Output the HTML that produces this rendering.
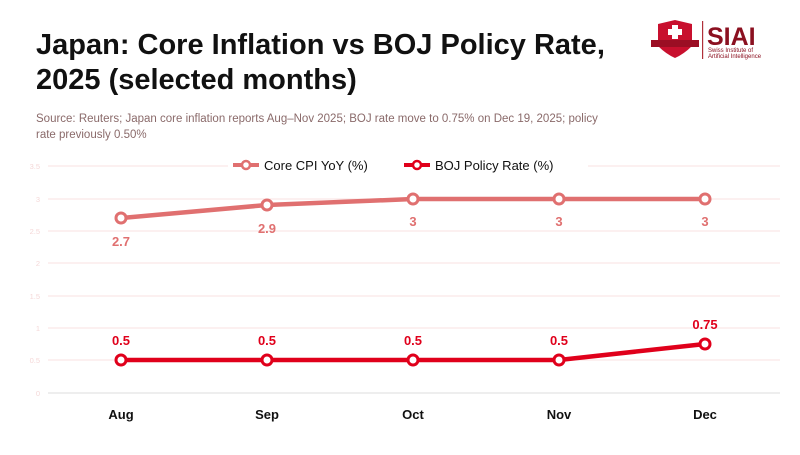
<!DOCTYPE html>
<html><head><meta charset="utf-8"><style>
body{margin:0;width:800px;height:450px;background:#fff;overflow:hidden;font-family:"Liberation Sans",sans-serif}
</style></head><body>
<svg width="800" height="450" xmlns="http://www.w3.org/2000/svg" font-family="Liberation Sans, sans-serif">
<text x="36" y="54" font-size="29" font-weight="bold" fill="#111">Japan: Core Inflation vs BOJ Policy Rate,</text>
<text x="36" y="89" font-size="29" font-weight="bold" fill="#111">2025 (selected months)</text>
<text x="36" y="122" font-size="11.5" fill="#8a6a6a">Source: Reuters; Japan core inflation reports Aug–Nov 2025; BOJ rate move to 0.75% on Dec 19, 2025; policy</text>
<text x="36" y="138" font-size="11.5" fill="#8a6a6a">rate previously 0.50%</text>
<!-- logo -->
<g>
<path d="M658 24 L675 20 L692 24 L692 46 Q684 54 675 58 Q666 54 658 46 Z" fill="#c8102e"/>
<rect x="651" y="40" width="48" height="7" fill="#9b0e24"/>
<rect x="672" y="25" width="6" height="14" fill="#fff"/><rect x="668" y="29" width="14" height="6" fill="#fff"/>
<rect x="702" y="21" width="1.2" height="38" fill="#b0303a"/>
<text x="707" y="45" font-size="25" font-weight="bold" fill="#8b1020">SIAI</text>
<text x="708" y="52" font-size="6" fill="#8b1020">Swiss Institute of</text>
<text x="708" y="58" font-size="6" fill="#8b1020">Artificial Intelligence</text>
</g>
<!-- grid -->
<g stroke="#f8e0e0" stroke-width="1">
<line x1="48" x2="780" y1="166" y2="166"/><line x1="48" x2="780" y1="199" y2="199"/>
<line x1="48" x2="780" y1="231" y2="231"/><line x1="48" x2="780" y1="263" y2="263"/>
<line x1="48" x2="780" y1="296" y2="296"/><line x1="48" x2="780" y1="328" y2="328"/>
<line x1="48" x2="780" y1="360" y2="360"/>
</g>
<line x1="48" x2="780" y1="393" y2="393" stroke="#ddd"/>
<!-- legend -->
<rect x="228" y="156" width="360" height="19" fill="#fff"/>
<line x1="233" y1="165" x2="259" y2="165" stroke="#e07070" stroke-width="4"/>
<circle cx="246" cy="165" r="4" fill="#fff" stroke="#e07070" stroke-width="2.5"/>
<text x="264" y="170" font-size="13" fill="#111">Core CPI YoY (%)</text>
<line x1="404" y1="165" x2="430" y2="165" stroke="#e0001b" stroke-width="4"/>
<circle cx="417" cy="165" r="4" fill="#fff" stroke="#e0001b" stroke-width="2.5"/>
<text x="435" y="170" font-size="13" fill="#111">BOJ Policy Rate (%)</text>
<g font-size="7.5" fill="#f5d8d8" text-anchor="end">
<text x="40" y="169">3.5</text><text x="40" y="202">3</text><text x="40" y="234">2.5</text>
<text x="40" y="266">2</text><text x="40" y="299">1.5</text><text x="40" y="331">1</text>
<text x="40" y="363">0.5</text><text x="40" y="396">0</text>
</g>
<g font-size="13" font-weight="bold" fill="#111" text-anchor="middle">
<text x="121" y="419">Aug</text><text x="267" y="419">Sep</text><text x="413" y="419">Oct</text><text x="559" y="419">Nov</text><text x="705" y="419">Dec</text>
</g>
<polyline points="121,218 267,205 413,199 559,199 705,199" fill="none" stroke="#e07070" stroke-width="4.5"/>
<g fill="#fff" stroke="#e07070" stroke-width="3">
<circle cx="121" cy="218" r="5"/><circle cx="267" cy="205" r="5"/><circle cx="413" cy="199" r="5"/><circle cx="559" cy="199" r="5"/><circle cx="705" cy="199" r="5"/>
</g>
<g font-size="13" font-weight="bold" fill="#e07070" text-anchor="middle">
<text x="121" y="246">2.7</text><text x="267" y="233">2.9</text><text x="413" y="226">3</text><text x="559" y="226">3</text><text x="705" y="226">3</text>
</g>
<polyline points="121,360 267,360 413,360 559,360 705,344" fill="none" stroke="#e0001b" stroke-width="4.5"/>
<g fill="#fff" stroke="#e0001b" stroke-width="3">
<circle cx="121" cy="360" r="5"/><circle cx="267" cy="360" r="5"/><circle cx="413" cy="360" r="5"/><circle cx="559" cy="360" r="5"/><circle cx="705" cy="344" r="5"/>
</g>
<g font-size="13" font-weight="bold" fill="#e0001b" text-anchor="middle">
<text x="121" y="345">0.5</text><text x="267" y="345">0.5</text><text x="413" y="345">0.5</text><text x="559" y="345">0.5</text><text x="705" y="329">0.75</text>
</g>
</svg>
</body></html>
